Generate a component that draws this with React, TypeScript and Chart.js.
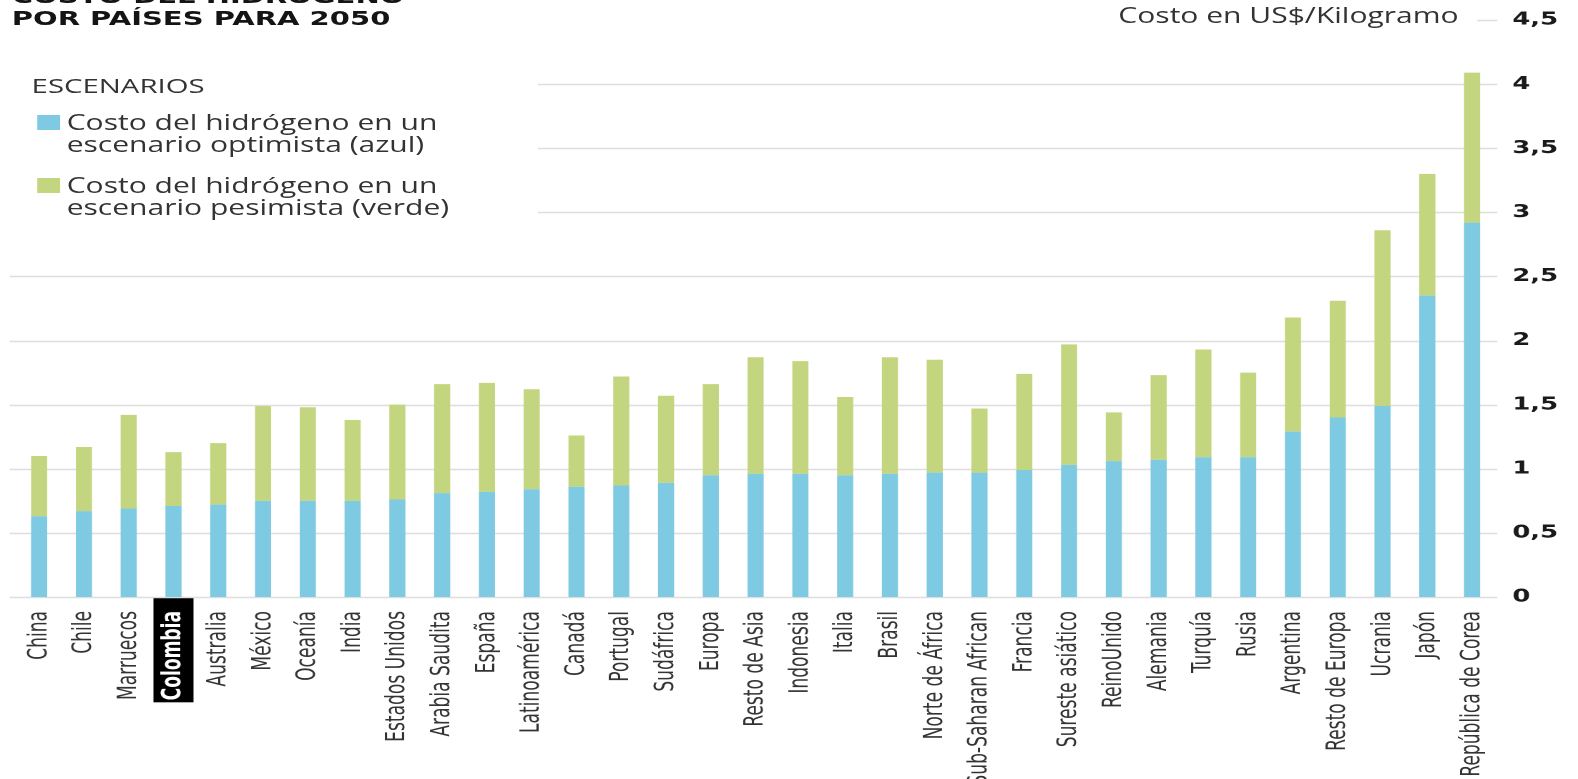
import React, { useEffect, useRef } from "react";
import { Chart, registerables } from "chart.js";

Chart.register(...registerables);

// ---------- data ----------
const COUNTRIES: string[] = [
  "China", "Chile", "Marruecos", "Colombia", "Australia", "México", "Oceanía", "India",
  "Estados Unidos", "Arabia Saudita", "España", "Latinoamérica", "Canadá", "Portugal",
  "Sudáfrica", "Europa", "Resto de Asia", "Indonesia", "Italia", "Brasil", "Norte de África",
  "Sub-Saharan African", "Francia", "Sureste asiático", "ReinoUnido", "Alemania", "Turquía",
  "Rusia", "Argentina", "Resto de Europa", "Ucrania", "Japón", "República de Corea",
];

// optimistic scenario (blue), US$/kg
const OPTIMISTA: number[] = [
  0.63, 0.67, 0.69, 0.71, 0.72, 0.75, 0.75, 0.75,
  0.76, 0.81, 0.82, 0.84, 0.86, 0.87,
  0.89, 0.95, 0.96, 0.96, 0.95, 0.96, 0.97,
  0.97, 0.99, 1.03, 1.06, 1.07, 1.09,
  1.09, 1.29, 1.40, 1.49, 2.35, 2.92,
];

// pessimistic scenario (green), US$/kg
const PESIMISTA: number[] = [
  1.10, 1.17, 1.42, 1.13, 1.20, 1.49, 1.48, 1.38,
  1.50, 1.66, 1.67, 1.62, 1.26, 1.72,
  1.57, 1.66, 1.87, 1.84, 1.56, 1.87, 1.85,
  1.47, 1.74, 1.97, 1.44, 1.73, 1.93,
  1.75, 2.18, 2.31, 2.86, 3.30, 4.09,
];

const Y_MIN = 0;
const Y_MAX = 4.5;
const Y_STEP = 0.5;
const HIGHLIGHT = "Colombia";

const TITLE_LINES: string[] = ["COSTO DEL HIDRÓGENO", "POR PAÍSES PARA 2050"];
const LEGEND_TITLE = "ESCENARIOS";
const SERIES_LABELS: string[] = [
  "Costo del hidrógeno en un\nescenario optimista (azul)",
  "Costo del hidrógeno en un\nescenario pesimista (verde)",
];
const UNIT_LABEL = "Costo en US$/Kilogramo";

// ---------- style ----------
const PAGE_W = 1578;
const PAGE_H = 779;
const INNER_W = 1103; // drawn narrow, then stretched horizontally like the reference
const STRETCH = PAGE_W / INNER_W;

const BLUE = "#7ecae2";
const GREEN = "#c3d67f";
const GRID = "#dedede";
const TEXT = "#333333";

const OPEN = "'Open Sans', 'DejaVu Sans', sans-serif";
const DEJAVU = "'DejaVu Sans', sans-serif";
const NARROW = "'DejaVu Sans Condensed', 'Liberation Sans Narrow', sans-serif";

function topFor(baseline: number, size: number, lh: number, asc: number, desc: number) {
  return baseline - ((lh - (asc + desc) * size) / 2 + asc * size);
}
const OS_ASC = 1.069, OS_DESC = 0.293;
const DV_ASC = 0.928, DV_DESC = 0.236;

export default function App() {
  const ref = useRef<HTMLCanvasElement | null>(null);

  useEffect(() => {
    const canvas = ref.current;
    if (!canvas) return;
    const hiIndex = COUNTRIES.indexOf(HIGHLIGHT);
    const tickFontSize = 19;

    const gridPlugin = {
      id: "customGrid",
      beforeDatasetsDraw(chart: any) {
        const ys = chart.scales.y;
        const ca = chart.chartArea;
        const ctx = chart.ctx;
        ctx.save();
        ctx.strokeStyle = GRID;
        ctx.lineWidth = 1.6;
        ys.ticks.forEach((t: any) => {
          const py = Math.round(ys.getPixelForValue(t.value)) + 0.5;
          let x0 = ca.left - 5;
          if (t.value >= 4.5) x0 = ca.right - 12;
          else if (t.value >= 3) x0 = 376;
          ctx.beginPath();
          ctx.moveTo(x0, py);
          ctx.lineTo(ca.right + 2, py);
          ctx.stroke();
        });
        ctx.restore();
      },
    };

    const highlightPlugin = {
      id: "highlightLabel",
      beforeDraw(chart: any) {
        const xs = chart.scales.x;
        if (hiIndex < 0) return;
        const ctx = chart.ctx;
        const px = xs.getPixelForTick(hiIndex);
        ctx.save();
        ctx.font = `bold ${tickFontSize}px ${NARROW}`;
        const w = ctx.measureText(COUNTRIES[hiIndex]).width;
        ctx.fillStyle = "#000000";
        ctx.fillRect(px - 14, xs.top, 28, 6 + w + 10);
        ctx.restore();
      },
    };

    const chart = new Chart(canvas, {
      type: "bar",
      data: {
        labels: COUNTRIES,
        datasets: [
          {
            label: SERIES_LABELS[0].replace("\n", " "),
            data: OPTIMISTA,
            backgroundColor: BLUE,
            barPercentage: 0.36,
            categoryPercentage: 1,
            grouped: false,
            borderWidth: 0,
          } as any,
          {
            label: SERIES_LABELS[1].replace("\n", " "),
            data: OPTIMISTA.map((v, i) => [v, PESIMISTA[i]]),
            backgroundColor: GREEN,
            barPercentage: 0.36,
            categoryPercentage: 1,
            grouped: false,
            borderWidth: 0,
          } as any,
        ],
      },
      options: {
        animation: false,
        responsive: false,
        devicePixelRatio: 2,
        layout: { padding: { left: 11.7, top: 20, right: 0, bottom: 0 } },
        plugins: {
          legend: { display: false },
          tooltip: { enabled: false },
          title: { display: false },
        },
        scales: {
          x: {
            grid: { display: false },
            border: { display: false },
            ticks: {
              autoSkip: false,
              minRotation: 90,
              maxRotation: 90,
              padding: 6,
              color: (c: any) => (c.index === hiIndex ? "#ffffff" : TEXT),
              font: (c: any) => ({
                family: NARROW,
                size: tickFontSize,
                weight: c.index === hiIndex ? "bold" : "normal",
              }),
            },
            afterFit: (scale: any) => {
              scale.height = PAGE_H - 597;
            },
          },
          y: {
            position: "right",
            min: Y_MIN,
            max: Y_MAX,
            grid: { display: false, drawTicks: false },
            border: { display: false },
            ticks: {
              stepSize: Y_STEP,
              padding: 12.5,
              color: "#1a1a1a",
              font: { family: DEJAVU, size: 18, weight: "bold" },
              callback: (v: any) => String(v).replace(".", ","),
            },
            afterFit: (scale: any) => {
              scale.width = INNER_W - 1044.6;
              scale.paddingTop = 0;
              scale.paddingBottom = 0;
            },
          },
        },
      } as any,
      plugins: [gridPlugin, highlightPlugin],
    });
    return () => chart.destroy();
  }, []);

  const legendText = (text: string, baseline: number) => (
    <div
      style={{
        position: "absolute",
        left: 46.6,
        top: topFor(baseline, 21, 22, OS_ASC, OS_DESC),
        fontFamily: OPEN,
        fontSize: 21,
        lineHeight: "22px",
        color: TEXT,
        whiteSpace: "pre",
      }}
    >
      {text}
    </div>
  );

  return (
    <div
      style={{
        position: "fixed",
        left: 0,
        top: 0,
        width: PAGE_W,
        height: PAGE_H,
        overflow: "hidden",
        background: "#ffffff",
      }}
    >
      <div
        style={{
          position: "absolute",
          left: 0,
          top: 0,
          width: INNER_W,
          height: PAGE_H,
          transform: `scaleX(${STRETCH})`,
          transformOrigin: "0 0",
        }}
      >
        <canvas
          ref={ref}
          width={INNER_W}
          height={PAGE_H}
          style={{ position: "absolute", left: 0, top: 0, width: INNER_W, height: PAGE_H, display: "block" }}
        />
        <div
          style={{
            position: "absolute",
            left: 8.2,
            top: topFor(3, 20.3, 22, DV_ASC, DV_DESC),
            fontFamily: DEJAVU,
            fontWeight: "bold",
            fontSize: 20.3,
            lineHeight: "22px",
            color: "#141414",
            whiteSpace: "pre",
          }}
        >
          {TITLE_LINES.join("\n")}
        </div>
        <div
          style={{
            position: "absolute",
            left: 781.7,
            top: topFor(23.3, 21, 24, OS_ASC, OS_DESC),
            fontFamily: OPEN,
            fontSize: 21,
            lineHeight: "24px",
            color: TEXT,
            whiteSpace: "pre",
          }}
        >
          {UNIT_LABEL}
        </div>
        <div
          style={{
            position: "absolute",
            left: 22.1,
            top: topFor(93.3, 20.5, 24, OS_ASC, OS_DESC),
            fontFamily: OPEN,
            fontSize: 20.5,
            lineHeight: "24px",
            color: TEXT,
            whiteSpace: "pre",
          }}
        >
          {LEGEND_TITLE}
        </div>
        <div style={{ position: "absolute", left: 26.1, top: 115, width: 15.9, height: 15, background: BLUE }} />
        {legendText(SERIES_LABELS[0], 130)}
        <div style={{ position: "absolute", left: 26.1, top: 178, width: 15.9, height: 15, background: GREEN }} />
        {legendText(SERIES_LABELS[1], 193)}
      </div>
    </div>
  );
}
